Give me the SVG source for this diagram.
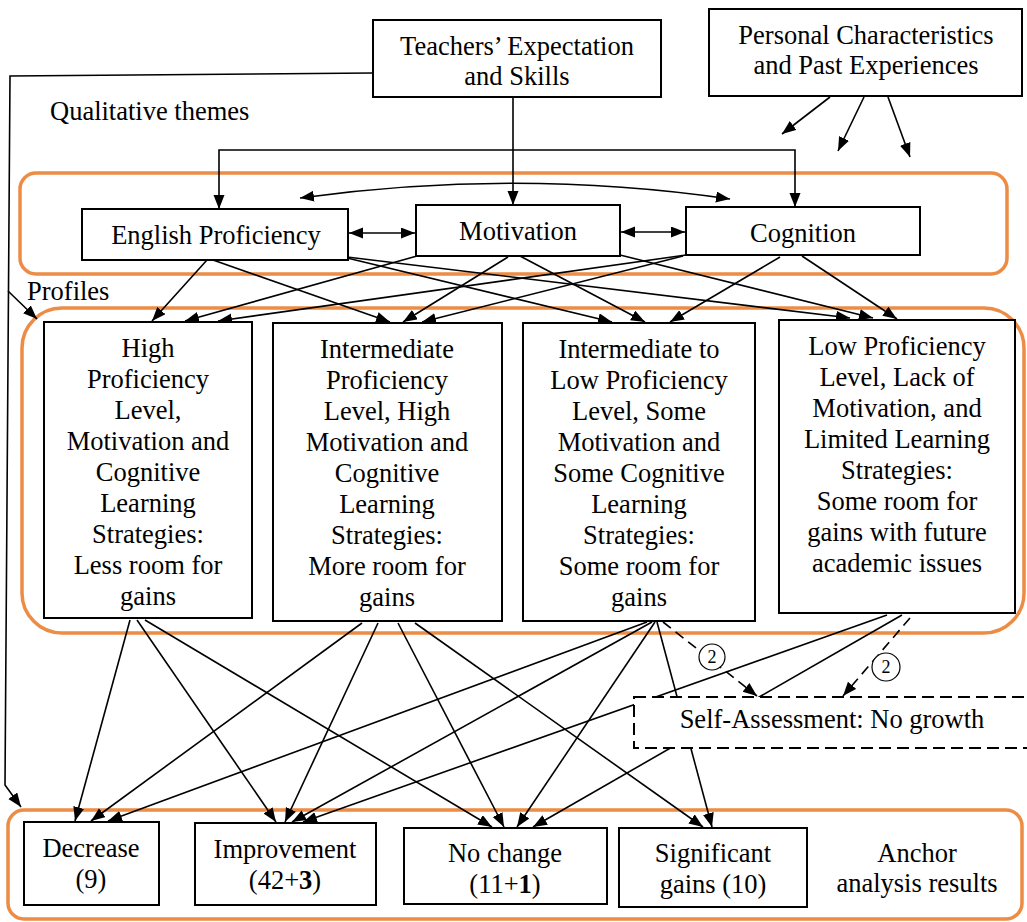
<svg xmlns="http://www.w3.org/2000/svg" width="1027" height="922" viewBox="0 0 1027 922">
<defs>
<marker id="ah" markerUnits="userSpaceOnUse" markerWidth="15" markerHeight="12" refX="14" refY="5.5" orient="auto-start-reverse">
<path d="M0,0 L14,5.5 L0,11 z" fill="#000"/>
</marker>
<style>
.t{font-family:"Liberation Serif","Times New Roman",serif;font-size:26.5px;fill:#000;text-anchor:middle}
.tl{font-family:"Liberation Serif","Times New Roman",serif;font-size:26.5px;fill:#000}
.sm{font-family:"Liberation Serif","Times New Roman",serif;font-size:18px;fill:#000;text-anchor:middle}
.box{fill:#fff;stroke:#000;stroke-width:2}
.dbox{fill:#fff;stroke:#000;stroke-width:2;stroke-dasharray:12 6}
.grp{fill:none;stroke:#EC8C45;stroke-width:3.5}
.c{fill:none;stroke:#000;stroke-width:1.6;marker-end:url(#ah)}
.cd{fill:none;stroke:#000;stroke-width:1.6;stroke-dasharray:10 6;marker-end:url(#ah)}
.dbl{fill:none;stroke:#000;stroke-width:1.6;marker-end:url(#ah);marker-start:url(#ah)}
.circ{fill:#fff;stroke:#000;stroke-width:1.2}
</style>
</defs>
<rect width="1027" height="922" fill="#fff"/>

<g id="groups">
<rect class="grp" x="20" y="173" width="987" height="101" rx="16"/>
<rect class="grp" x="22" y="308" width="1002" height="325" rx="40"/>
<rect class="grp" x="8" y="810" width="1014" height="109" rx="16"/>
</g>

<g id="labels">
<text class="tl" x="50" y="120">Qualitative themes</text>
<text class="tl" x="27" y="300">Profiles</text>
</g>

<g id="connectors">
<path class="c" d="M373,73 L10,76 L5,785 L21,807"/>
<path class="c" d="M8,291 L37,319"/>
<path class="c" d="M513,97 L513,205"/>
<path class="c" d="M513,150 L219,150 L219,209"/>
<path class="c" d="M513,150 L795,150 L795,207"/>
<path class="c" d="M830,97 L782,134"/>
<path class="c" d="M864,97 L838,151"/>
<path class="c" d="M888,97 L910,157"/>
<path class="dbl" d="M349,233 L415,233"/>
<path class="dbl" d="M621,232 L685,232"/>
<path class="dbl" d="M300,198 Q517,168 730,199"/>

<path class="c" d="M207,260 L152,321"/>
<path class="c" d="M213,260 L390,322"/>
<path class="c" d="M343,257 L612,322"/>
<path class="c" d="M347,257 L850,318"/>
<path class="c" d="M417,256 L185,321"/>
<path class="c" d="M508,257 L403,322"/>
<path class="c" d="M520,256 L645,322"/>
<path class="c" d="M620,255 L873,318"/>
<path class="c" d="M686,255 L218,321"/>
<path class="c" d="M683,256 L422,322"/>
<path class="c" d="M780,257 L670,322"/>
<path class="c" d="M802,256 L897,319"/>

<path class="c" d="M130,620 L75,821"/>
<path class="c" d="M137,620 L276,822"/>
<path class="c" d="M145,620 L492,827"/>
<path class="c" d="M362,623 L91,821"/>
<path class="c" d="M378,623 L285,822"/>
<path class="c" d="M398,623 L504,827"/>
<path class="c" d="M415,623 L703,827"/>
<path class="c" d="M647,622 L108,821"/>
<path class="c" d="M652,622 L292,822"/>
<path class="c" d="M655,622 L517,827"/>
<path class="c" d="M657,622 L712,827"/>
<path class="c" d="M887,615 L303,822"/>
<path class="c" d="M902,615 L533,827"/>
<path class="cd" d="M663,622 L757,696"/>
<path class="cd" d="M910,618 L843,696"/>
</g>

<g id="teachers">
<rect class="box" x="373" y="20" width="288" height="77"/>
<text class="t" x="517" y="55">Teachers’ Expectation</text>
<text class="t" x="517" y="85">and Skills</text>
</g>
<g id="personal">
<rect class="box" x="709" y="9" width="313" height="87"/>
<text class="t" x="866" y="44">Personal Characteristics</text>
<text class="t" x="866" y="74">and Past Experiences</text>
</g>

<g id="english">
<rect class="box" x="82" y="209" width="266" height="51"/>
<text class="t" x="216" y="244">English Proficiency</text>
</g>
<g id="motivation">
<rect class="box" x="416" y="205" width="204" height="51"/>
<text class="t" x="518" y="240">Motivation</text>
</g>
<g id="cognition">
<rect class="box" x="686" y="207" width="234" height="48"/>
<text class="t" x="803" y="242">Cognition</text>
</g>

<g id="profile1">
<rect class="box" x="44" y="322" width="208" height="296"/>
<text class="t" x="148" y="357">High</text>
<text class="t" x="148" y="388">Proficiency</text>
<text class="t" x="148" y="419">Level,</text>
<text class="t" x="148" y="450">Motivation and</text>
<text class="t" x="148" y="481">Cognitive</text>
<text class="t" x="148" y="512">Learning</text>
<text class="t" x="148" y="543">Strategies:</text>
<text class="t" x="148" y="574">Less room for</text>
<text class="t" x="148" y="605">gains</text>
</g>
<g id="profile2">
<rect class="box" x="273" y="323" width="229" height="298"/>
<text class="t" x="387" y="358">Intermediate</text>
<text class="t" x="387" y="389">Proficiency</text>
<text class="t" x="387" y="420">Level, High</text>
<text class="t" x="387" y="451">Motivation and</text>
<text class="t" x="387" y="482">Cognitive</text>
<text class="t" x="387" y="513">Learning</text>
<text class="t" x="387" y="544">Strategies:</text>
<text class="t" x="387" y="575">More room for</text>
<text class="t" x="387" y="606">gains</text>
</g>
<g id="profile3">
<rect class="box" x="523" y="323" width="232" height="298"/>
<text class="t" x="639" y="358">Intermediate to</text>
<text class="t" x="639" y="389">Low Proficiency</text>
<text class="t" x="639" y="420">Level, Some</text>
<text class="t" x="639" y="451">Motivation and</text>
<text class="t" x="639" y="482">Some Cognitive</text>
<text class="t" x="639" y="513">Learning</text>
<text class="t" x="639" y="544">Strategies:</text>
<text class="t" x="639" y="575">Some room for</text>
<text class="t" x="639" y="606">gains</text>
</g>
<g id="profile4">
<rect class="box" x="779" y="320" width="236" height="293"/>
<text class="t" x="897" y="355">Low Proficiency</text>
<text class="t" x="897" y="386">Level, Lack of</text>
<text class="t" x="897" y="417">Motivation, and</text>
<text class="t" x="897" y="448">Limited Learning</text>
<text class="t" x="897" y="479">Strategies:</text>
<text class="t" x="897" y="510">Some room for</text>
<text class="t" x="897" y="541">gains with future</text>
<text class="t" x="897" y="572">academic issues</text>
</g>

<g id="selfassessment">
<rect class="dbox" x="634" y="697" width="400" height="51"/>
<text class="t" x="832" y="728">Self-Assessment: No growth</text>
</g>
<g id="label2a">
<circle class="circ" cx="712" cy="657" r="13"/>
<text class="sm" x="712" y="663">2</text>
</g>
<g id="label2b">
<circle class="circ" cx="886" cy="667" r="14"/>
<text class="sm" x="886" y="673">2</text>
</g>

<g id="decrease">
<rect class="box" x="24" y="822" width="135" height="83"/>
<text class="t" x="91" y="857">Decrease</text>
<text class="t" x="91" y="888">(9)</text>
</g>
<g id="improvement">
<rect class="box" x="195" y="823" width="181" height="82"/>
<text class="t" x="285" y="858">Improvement</text>
<text class="t" x="285" y="889">(42+<tspan font-weight="bold">3</tspan>)</text>
</g>
<g id="nochange">
<rect class="box" x="404" y="828" width="203" height="76"/>
<text class="t" x="505" y="862">No change</text>
<text class="t" x="505" y="893">(11+<tspan font-weight="bold">1</tspan>)</text>
</g>
<g id="significant">
<rect class="box" x="619" y="828" width="188" height="79"/>
<text class="t" x="713" y="862">Significant</text>
<text class="t" x="713" y="893">gains (10)</text>
</g>
<g id="anchor">
<text class="t" x="917" y="862">Anchor</text>
<text class="t" x="917" y="892">analysis results</text>
</g>
</svg>
